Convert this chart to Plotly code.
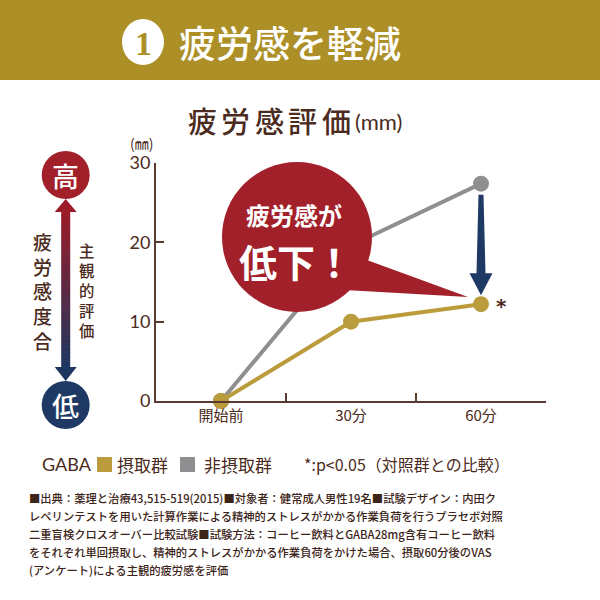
import plotly.graph_objects as go

# ---- data ----
categories = ["開始前", "30分", "60分"]
gaba_values = [0, 10.0, 12.2]        # 摂取群
control_values = [0, 19.6, 27.4]     # 非摂取群
y_ticks = [0, 10, 20, 30]

footnote_lines = [
    "■出典：薬理と治療43,515-519(2015)■対象者：健常成人男性19名■試験デザイン：内田ク",
    "レペリンテストを用いた計算作業による精神的ストレスがかかる作業負荷を行うプラセボ対照",
    "二重盲検クロスオーバー比較試験■試験方法：コーヒー飲料とGABA28mg含有コーヒー飲料",
    "をそれぞれ単回摂取し、精神的ストレスがかかる作業負荷をかけた場合、摂取60分後のVAS",
    "(アンケート)による主観的疲労感を評価",
]

# ---- colours ----
GOLD = "#BA9C3C"
GRAY = "#8F8F92"
BROWN = "#4B2A20"
RED = "#A2202A"
NAVY = "#1E3A64"
HEADER = "#AD8F27"
JP = "Noto Sans CJK JP"

# plot area in pixels
L, R, T, B = 156, 546, 163, 401
W, H = R - L, B - T
YMAX = 30


def X(px):
    return (px - L) / W


def Y(py):
    return (B - py) / H


def px_of_cat(i):
    return L + (i + 0.5) * W / len(categories)


def py_of_val(v):
    return B - v * H / YMAX


fig = go.Figure()
fig.add_trace(go.Scatter(x=categories, y=control_values, mode="lines+markers",
                         line=dict(color=GRAY, width=4),
                         marker=dict(size=16, color=GRAY), cliponaxis=False,
                         showlegend=False, hoverinfo="skip"))
fig.add_trace(go.Scatter(x=categories, y=gaba_values, mode="lines+markers",
                         line=dict(color=GOLD, width=4),
                         marker=dict(size=16, color=GOLD), cliponaxis=False,
                         showlegend=False, hoverinfo="skip"))

shapes = []
ann = []

# header band
shapes.append(dict(type="rect", xref="paper", yref="paper", x0=X(0), x1=X(600),
                   y0=Y(80), y1=Y(0), fillcolor=HEADER, line=dict(width=0), layer="below"))
shapes.append(dict(type="circle", xref="paper", yref="paper", x0=X(122), x1=X(164),
                   y0=Y(65), y1=Y(19), fillcolor="white", line=dict(width=0)))
ann.append(dict(text="<b>1</b>", x=X(143), y=Y(43), font=dict(family="Liberation Serif", size=34, color=HEADER)))
ann.append(dict(text="疲労感を軽減", x=X(290), y=Y(42),
                font=dict(family=JP, size=37, color="white", weight=500)))

# chart title
for i, ch in enumerate("疲労感評価"):
    ann.append(dict(text=ch, x=X(202 + i * 33.6), y=Y(120),
                    font=dict(family=JP, size=29, color=BROWN, weight=500)))
ann.append(dict(text="(mm)", x=X(353), y=Y(122), xanchor="left",
                font=dict(family="Lato", size=22, color=BROWN)))
ann.append(dict(text="(㎜)", x=X(141), y=Y(143), font=dict(family=JP, size=14, color=BROWN)))

# left indicator: gradient double arrow
cx = 65.7
top_c = (0x9B, 0x1C, 0x28)
bot_c = (0x1E, 0x37, 0x60)
y_top, y_bot = 211.0, 368.0
nseg = 40
for k in range(nseg):
    t = k / (nseg - 1)
    col = "rgb(%d,%d,%d)" % tuple(int(top_c[j] + (bot_c[j] - top_c[j]) * t) for j in range(3))
    ya = y_top + (y_bot - y_top) * k / nseg
    yb = y_top + (y_bot - y_top) * (k + 1) / nseg + 0.6
    shapes.append(dict(type="rect", xref="paper", yref="paper", x0=X(cx - 4.5), x1=X(cx + 4.5),
                       y0=Y(yb), y1=Y(ya), fillcolor=col, line=dict(width=0)))
shapes.append(dict(type="path", xref="paper", yref="paper",
                   path=f"M {X(cx-11)} {Y(212)} L {X(cx+11)} {Y(212)} L {X(cx)} {Y(199)} Z",
                   fillcolor="rgb(%d,%d,%d)" % top_c, line=dict(width=0)))
shapes.append(dict(type="path", xref="paper", yref="paper",
                   path=f"M {X(cx-11)} {Y(367)} L {X(cx+11)} {Y(367)} L {X(cx)} {Y(381)} Z",
                   fillcolor="rgb(%d,%d,%d)" % bot_c, line=dict(width=0)))
shapes.append(dict(type="circle", xref="paper", yref="paper", x0=X(cx - 24), x1=X(cx + 24),
                   y0=Y(199), y1=Y(151), fillcolor=RED, line=dict(width=0)))
shapes.append(dict(type="circle", xref="paper", yref="paper", x0=X(cx - 24), x1=X(cx + 24),
                   y0=Y(429), y1=Y(381), fillcolor=NAVY, line=dict(width=0)))
ann.append(dict(text="高", x=X(cx), y=Y(175), font=dict(family=JP, size=27, color="white", weight=500)))
ann.append(dict(text="低", x=X(cx), y=Y(405), font=dict(family=JP, size=27, color="white", weight=500)))
ann.append(dict(text="<br>".join("疲労感度合"), x=X(42), y=Y(291),
                font=dict(family=JP, size=19, color=BROWN, weight=500)))
ann.append(dict(text="<br>".join("主観的評価"), x=X(86), y=Y(290),
                font=dict(family=JP, size=15.4, color=BROWN, weight=500)))

# speech bubble
bx, by, br = 297, 237, 75
shapes.append(dict(type="path", xref="paper", yref="paper", layer="above",
                   path=f"M {X(345)} {Y(252)} L {X(468)} {Y(297)} L {X(345)} {Y(290)} Z",
                   fillcolor=RED, line=dict(width=0)))
shapes.append(dict(type="circle", xref="paper", yref="paper", layer="above",
                   x0=X(bx - br), x1=X(bx + br), y0=Y(by + br), y1=Y(by - br),
                   fillcolor=RED, line=dict(width=0)))
ann.append(dict(text="疲労感が", x=X(294), y=Y(214),
                font=dict(family=JP, size=24, color="white", weight=700)))
ann.append(dict(text="低下！", x=X(296), y=Y(260),
                font=dict(family=JP, size=38, color="white", weight=700)))

# arrow between groups at 60分
ax = px_of_cat(2)
a_top = py_of_val(control_values[2]) + 11
a_tip = py_of_val(gaba_values[2]) - 9
a_hb = a_tip - 22
shapes.append(dict(type="path", xref="paper", yref="paper", layer="above",
                   path=(f"M {X(ax-2.5)} {Y(a_top)} L {X(ax+2.5)} {Y(a_top)} L {X(ax+4.5)} {Y(a_hb)} "
                         f"L {X(ax+11.5)} {Y(a_hb)} L {X(ax)} {Y(a_tip)} L {X(ax-11.5)} {Y(a_hb)} "
                         f"L {X(ax-4.5)} {Y(a_hb)} Z"),
                   fillcolor=NAVY, line=dict(width=0)))
ann.append(dict(text="<b>*</b>", x=X(ax + 20), y=Y(py_of_val(gaba_values[2]) + 2),
                font=dict(family="DejaVu Sans", size=20, color=BROWN)))

# legend row
ann.append(dict(text="GABA", x=X(40), y=Y(464), xanchor="left", font=dict(family="Lato", size=18, color=BROWN)))
shapes.append(dict(type="rect", xref="paper", yref="paper", x0=X(97), x1=X(112), y0=Y(472), y1=Y(457),
                   fillcolor=GOLD, line=dict(width=0)))
ann.append(dict(text="摂取群", x=X(115), y=Y(464), xanchor="left", font=dict(family=JP, size=17, color=BROWN)))
shapes.append(dict(type="rect", xref="paper", yref="paper", x0=X(180), x1=X(195), y0=Y(472), y1=Y(457),
                   fillcolor=GRAY, line=dict(width=0)))
ann.append(dict(text="非摂取群", x=X(202), y=Y(464), xanchor="left", font=dict(family=JP, size=17, color=BROWN)))
ann.append(dict(text="*:p<0.05（対照群との比較）", x=X(302), y=Y(464), xanchor="left",
                font=dict(family=JP, size=16, color=BROWN)))

# footnote
for i, line in enumerate(footnote_lines):
    ann.append(dict(text=line, x=X(27), y=Y(498 + i * 18), xanchor="left",
                    font=dict(family=JP, size=11.3, color="#3C2418", weight=500)))

for a in ann:
    a.setdefault("xref", "paper")
    a.setdefault("yref", "paper")
    a.setdefault("showarrow", False)
    a.setdefault("xanchor", "center")
    a.setdefault("yanchor", "middle")

fig.update_layout(
    width=600, height=600,
    margin=dict(l=L, r=600 - R, t=T, b=600 - B, pad=0),
    paper_bgcolor="white", plot_bgcolor="white",
    shapes=shapes, annotations=ann, showlegend=False,
    xaxis=dict(type="category", range=[-0.5, 2.5], tickson="boundaries", ticks="inside",
               ticklen=8, tickwidth=2, tickcolor="#5A3A2E", showline=True, linecolor="#5A3A2E",
               linewidth=2, showgrid=False, zeroline=False,
               tickfont=dict(family=JP, size=15, color=BROWN)),
    yaxis=dict(range=[0, YMAX], tickvals=y_ticks, ticks="inside", ticklen=8, tickwidth=2,
               tickcolor="#5A3A2E", showline=True, linecolor="#5A3A2E", linewidth=2,
               showgrid=False, zeroline=False,
               tickfont=dict(family="Lato", size=18, color=BROWN)),
)

fig.write_html("out.html")
